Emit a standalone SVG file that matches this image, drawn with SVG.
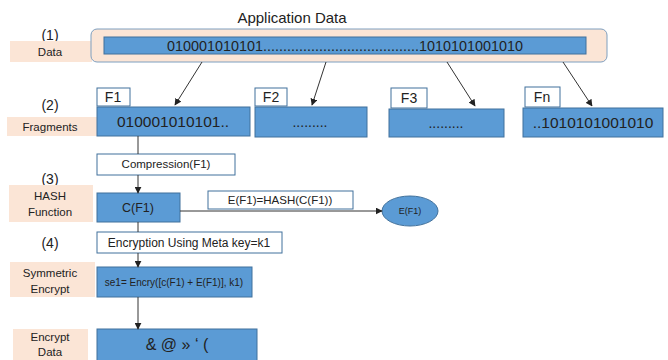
<svg xmlns="http://www.w3.org/2000/svg" width="668" height="360" viewBox="0 0 668 360">
<defs>
<marker id="ah" viewBox="0 0 10 10" refX="9" refY="5" markerWidth="7" markerHeight="7" orient="auto" markerUnits="userSpaceOnUse"><path d="M0,0 L10,5 L0,10 z" fill="#222"/></marker>
<style>
text{font-family:"Liberation Sans",Arial,sans-serif;fill:#222}
.lab{fill:#fbe5d6}
.blue{fill:#5b9bd5;stroke:#41719c;stroke-width:1}
.wbox{fill:#fff;stroke:#41719c;stroke-width:1}
.c{text-anchor:middle}
.ln{stroke:#333;stroke-width:1;fill:none}
</style>
</defs>
<rect width="668" height="360" fill="#fff"/>
<text x="292" y="23" class="c" font-size="15">Application Data</text>

<g id="labels">
<text x="50" y="40" class="c" font-size="14">(1)</text>
<rect class="lab" x="10" y="41" width="82" height="21"/>
<text x="50" y="56" class="c" font-size="11.5">Data</text>
<text x="50" y="110" class="c" font-size="14">(2)</text>
<rect class="lab" x="7" y="117" width="90" height="19"/>
<text x="50" y="131" class="c" font-size="11.5">Fragments</text>
<text x="50" y="184" class="c" font-size="14">(3)</text>
<rect class="lab" x="9" y="185" width="84" height="37"/>
<text x="50" y="200" class="c" font-size="11.5">HASH</text>
<text x="50" y="216" class="c" font-size="11.5">Function</text>
<text x="50" y="248" class="c" font-size="14">(4)</text>
<rect class="lab" x="10" y="262" width="85" height="35"/>
<text x="50" y="277" class="c" font-size="11.5">Symmetric</text>
<text x="50" y="293" class="c" font-size="11.5">Encrypt</text>
<rect class="lab" x="13" y="329" width="75" height="31"/>
<text x="50" y="341" class="c" font-size="11.5">Encrypt</text>
<text x="50" y="356" class="c" font-size="11.5">Data</text>
</g>

<g id="data">
<rect x="91" y="29" width="516" height="33" rx="6" fill="#fbe5d6" stroke="#7f9fbf" stroke-width="1"/>
<rect class="blue" x="104" y="37" width="482" height="17"/>
<text x="167" y="51" font-size="15" textLength="356" lengthAdjust="spacingAndGlyphs">010001010101.......................................1010101001010</text>
</g>

<g id="f1">
<rect class="wbox" x="97" y="88" width="33" height="18"/>
<text x="113" y="102" class="c" font-size="14">F1</text>
<rect class="blue" x="97" y="107" width="153" height="29"/>
<text x="173" y="127" class="c" font-size="15.5">010001010101..</text>
</g>
<g id="f2">
<rect class="wbox" x="255" y="88" width="32" height="18"/>
<text x="271" y="102" class="c" font-size="14">F2</text>
<rect class="blue" x="255" y="107" width="112" height="30"/>
<text x="310" y="127" class="c" font-size="14">.........</text>
</g>
<g id="f3">
<rect class="wbox" x="391" y="88" width="36" height="20"/>
<text x="409" y="103" class="c" font-size="14">F3</text>
<rect class="blue" x="389" y="109" width="115" height="28"/>
<text x="446" y="128" class="c" font-size="14">.........</text>
</g>
<g id="fn">
<rect class="wbox" x="525" y="87" width="35" height="20"/>
<text x="542" y="102" class="c" font-size="14">Fn</text>
<rect class="blue" x="523" y="108" width="140" height="29"/>
<text x="593" y="128" class="c" font-size="15.5">..1010101001010</text>
</g>

<g id="compression">
<rect class="wbox" x="97" y="154" width="138" height="21"/>
<text x="166" y="168" class="c" font-size="11.5">Compression(F1)</text>
</g>
<g id="cf1">
<rect x="97" y="193" width="83" height="29" fill="#5b9bd5" stroke="#41719c"/>
<text x="138" y="212" class="c" font-size="12.5">C(F1)</text>
</g>
<g id="hash">
<rect class="wbox" x="208" y="191" width="145" height="18"/>
<text x="280" y="204" class="c" font-size="11.5">E(F1)=HASH(C(F1))</text>
</g>
<g id="ef1">
<ellipse cx="410" cy="211" rx="28" ry="15" fill="#5b9bd5" stroke="#41719c"/>
<text x="410" y="214" class="c" font-size="9">E(F1)</text>
</g>
<g id="encryption">
<rect class="wbox" x="97" y="232" width="185" height="21"/>
<text x="189" y="247" class="c" font-size="12">Encryption Using Meta key=k1</text>
</g>
<g id="se1">
<rect class="blue" x="97" y="267" width="155" height="30"/>
<text x="174" y="286" class="c" font-size="10">se1= Encry([c(F1) + E(F1)], k1)</text>
</g>
<g id="encdata">
<rect class="blue" x="97" y="329" width="160" height="32"/>
<text x="177" y="350" class="c" font-size="16">&amp; @ » ‘ (</text>
</g>

<g id="connectors">
<line class="ln" x1="202" y1="62" x2="175" y2="105" marker-end="url(#ah)"/>
<line class="ln" x1="326" y1="62" x2="312" y2="105" marker-end="url(#ah)"/>
<line class="ln" x1="447" y1="62" x2="475" y2="106" marker-end="url(#ah)"/>
<line class="ln" x1="563" y1="62" x2="592" y2="106" marker-end="url(#ah)"/>
<line class="ln" x1="138" y1="136" x2="138" y2="154"/>
<line class="ln" x1="138" y1="175" x2="138" y2="193" marker-end="url(#ah)"/>
<line class="ln" x1="180" y1="211" x2="382" y2="211" marker-end="url(#ah)"/>
<line class="ln" x1="138" y1="222" x2="138" y2="232"/>
<line class="ln" x1="138" y1="253" x2="138" y2="267" marker-end="url(#ah)"/>
<line class="ln" x1="138" y1="297" x2="138" y2="329" marker-end="url(#ah)"/>
</g>
</svg>
